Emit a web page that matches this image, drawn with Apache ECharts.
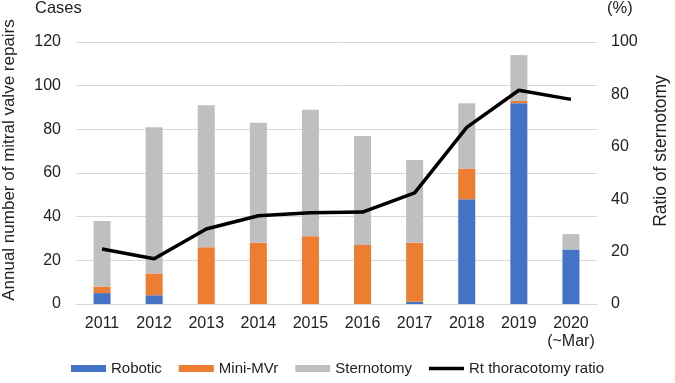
<!DOCTYPE html>
<html>
<head>
<meta charset="utf-8">
<script src="https://cdn.jsdelivr.net/npm/echarts@6/dist/echarts.min.js"></script>
<style>
  html, body { margin: 0; padding: 0; background: #fff; }
  #chart { width: 675px; height: 383px; }
</style>
</head>
<body>
<div id="chart"></div>
<script>
// chart data
var years = ['2011', '2012', '2013', '2014', '2015', '2016', '2017', '2018', '2019', '2020\n(~Mar)']
var robotic = [5, 4, 0, 0, 0, 0, 1, 48, 92, 25]
var miniMVr = [3, 10, 26, 28, 31, 27, 27, 14, 1, 0]
var sternotomy = [30, 67, 65, 55, 58, 50, 38, 30, 21, 7]
var rtRatio = [21.0, 17.3, 28.6, 33.7, 34.8, 35.1, 42.4, 67.4, 81.6, 78.1]

var font = 'Liberation Sans, Arial, sans-serif'
var txt = '#222'

var chart = echarts.init(document.getElementById('chart'))

chart.setOption({
  animation: false,
  textStyle: { fontFamily: font },
  grid: {
    left: 76,
    right: 78,
    top: 42,
    bottom: 79,
    outerBoundsMode: 'none',
    containLabel: false
  },
  graphic: [
    { type: 'text', left: 35, top: 0, style: { text: 'Cases', font: '16.5px ' + font, fill: txt } },
    { type: 'text', left: 607, top: 0, style: { text: '(%)', font: '16.5px ' + font, fill: txt } }
  ],
  legend: {
    bottom: 2,
    left: 'center',
    itemGap: 17,
    itemWidth: 35,
    itemHeight: 7,
    textStyle: { fontSize: 15, color: txt, fontFamily: font },
    data: [
      { name: 'Robotic', icon: 'rect' },
      { name: 'Mini-MVr', icon: 'rect' },
      { name: 'Sternotomy', icon: 'rect' },
      { name: 'Rt thoracotomy ratio', icon: 'path://M0 0h40v4h-40z' }
    ]
  },
  xAxis: {
    type: 'category',
    data: years,
    axisTick: { show: false },
    axisLine: { lineStyle: { color: '#D9D9D9' } },
    axisLabel: { color: txt, fontSize: 16, margin: 11, lineHeight: 18, interval: 0 }
  },
  yAxis: [
    {
      type: 'value',
      min: 0,
      max: 120,
      interval: 20,
      name: 'Annual number of mitral valve repairs',
      nameLocation: 'middle',
      nameRotate: 90,
      nameGap: 58,
      nameTextStyle: { fontSize: 17, color: txt, padding: [0, 0, 0, 26] },
      axisLabel: { color: txt, fontSize: 16, margin: 15 },
      axisLine: { show: false },
      axisTick: { show: false },
      splitLine: { lineStyle: { color: '#D9D9D9' } }
    },
    {
      type: 'value',
      min: 0,
      max: 100,
      interval: 20,
      position: 'right',
      name: 'Ratio of sternotomy',
      nameLocation: 'middle',
      nameRotate: 90,
      nameGap: 55,
      nameTextStyle: { fontSize: 17.5, color: txt, padding: [0, 0, 0, 44] },
      axisLabel: { color: txt, fontSize: 16, margin: 14 },
      axisLine: { show: false },
      axisTick: { show: false },
      splitLine: { show: false }
    }
  ],
  series: [
    {
      name: 'Robotic',
      type: 'bar',
      stack: 'mvr',
      barWidth: 17,
      itemStyle: { color: '#4472C4' },
      data: robotic
    },
    {
      name: 'Mini-MVr',
      type: 'bar',
      stack: 'mvr',
      barWidth: 17,
      itemStyle: { color: '#ED7D31' },
      data: miniMVr
    },
    {
      name: 'Sternotomy',
      type: 'bar',
      stack: 'mvr',
      barWidth: 17,
      itemStyle: { color: '#BFBFBF' },
      data: sternotomy
    },
    {
      name: 'Rt thoracotomy ratio',
      type: 'line',
      yAxisIndex: 1,
      symbol: 'none',
      itemStyle: { color: '#000' },
      lineStyle: { color: '#000', width: 3.5 },
      data: rtRatio
    }
  ]
})
</script>
</body>
</html>
